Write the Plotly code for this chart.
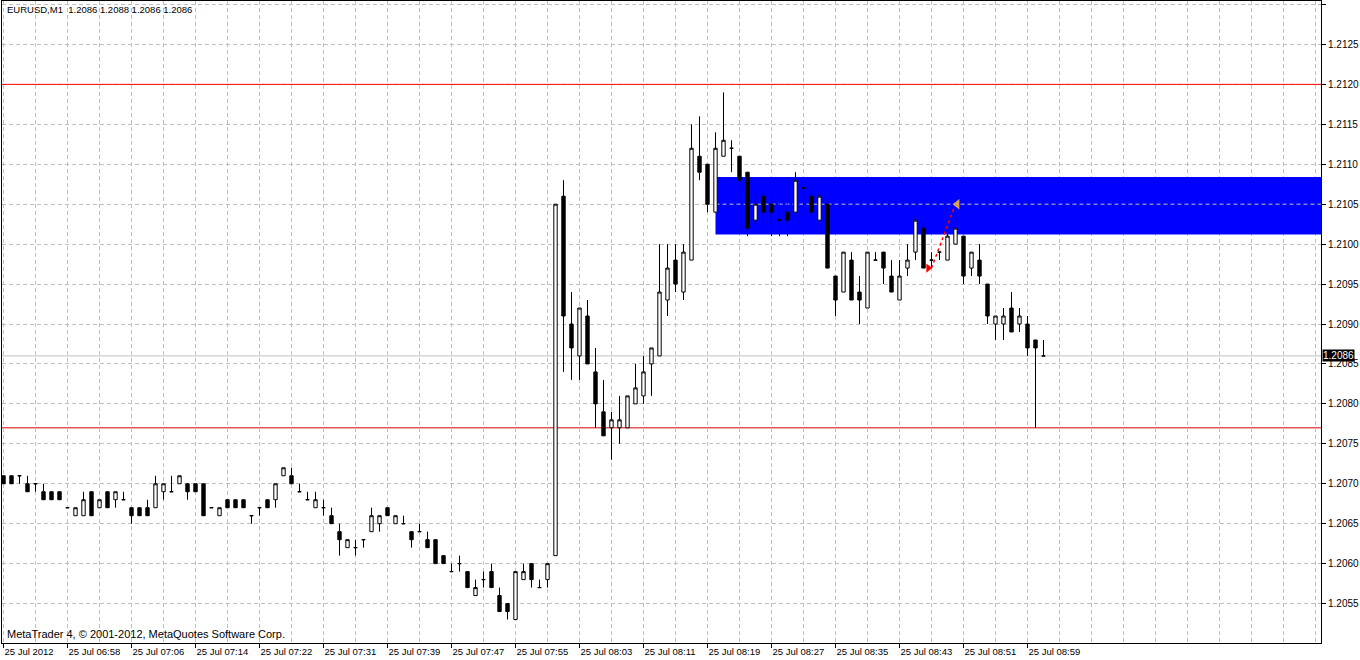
import plotly.graph_objects as go

# ---------------- data (EURUSD M1, 25 Jul 2012) ----------------
bar_index = list(range(131))

open_prices = [
    1.2071, 1.2071, 1.2071, 1.2070, 1.2070, 1.2069, 1.2069, 1.2069, 1.2067, 1.2066,
    1.2066, 1.2069, 1.2067, 1.2069, 1.2068, 1.2068, 1.2067, 1.2067, 1.2067, 1.2067,
    1.2069, 1.2069, 1.2070, 1.2070, 1.2070, 1.2070, 1.2067, 1.2066, 1.2068, 1.2068,
    1.2068, 1.2066, 1.2067, 1.2068, 1.2068, 1.2071, 1.2071, 1.2069, 1.2068, 1.2067,
    1.2067, 1.2066, 1.2064, 1.2062, 1.2062, 1.2063, 1.2064, 1.2065, 1.2067, 1.2065,
    1.2065, 1.2064, 1.2064, 1.2063, 1.2063, 1.2061, 1.2059, 1.2060, 1.2059, 1.2056,
    1.2058, 1.2059, 1.2056, 1.2055, 1.2053, 1.2058, 1.2060, 1.2057, 1.2058, 1.2061,
    1.2106, 1.2090, 1.2086, 1.2091, 1.2084, 1.2079, 1.2077, 1.2077, 1.2077, 1.2080,
    1.2081, 1.2085, 1.2086, 1.2093, 1.2098, 1.2094, 1.2098, 1.2111, 1.2110, 1.2104,
    1.2111, 1.2112, 1.2111, 1.2109, 1.2103, 1.2106, 1.2105, 1.2103, 1.2104, 1.2104,
    1.2107, 1.2106, 1.2103, 1.2105, 1.2096, 1.2094, 1.2098, 1.2094, 1.2092, 1.2098,
    1.2099, 1.2096, 1.2093, 1.2097, 1.2099, 1.2102, 1.2098, 1.2099, 1.2098, 1.2100,
    1.2101, 1.2097, 1.2098, 1.2095, 1.2090, 1.2090, 1.2092, 1.2090, 1.2090, 1.2088,
    1.2086,
]
high_prices = [
    1.2071, 1.2071, 1.2071, 1.2071, 1.2070, 1.2070, 1.2069, 1.2069, 1.2067, 1.2067,
    1.2069, 1.2069, 1.2068, 1.2069, 1.2069, 1.2069, 1.2067, 1.2067, 1.2068, 1.2071,
    1.2070, 1.2071, 1.2071, 1.2070, 1.2070, 1.2070, 1.2067, 1.2067, 1.2068, 1.2068,
    1.2068, 1.2066, 1.2067, 1.2068, 1.2070, 1.2072, 1.2072, 1.2070, 1.2069, 1.2069,
    1.2068, 1.2067, 1.2065, 1.2063, 1.2063, 1.2063, 1.2067, 1.2066, 1.2067, 1.2066,
    1.2066, 1.2064, 1.2065, 1.2064, 1.2063, 1.2061, 1.2060, 1.2061, 1.2059, 1.2058,
    1.2059, 1.2060, 1.2057, 1.2055, 1.2059, 1.2060, 1.2060, 1.2058, 1.2060, 1.2105,
    1.2108, 1.2094, 1.2092, 1.2093, 1.2087, 1.2083, 1.2079, 1.2081, 1.2081, 1.2085,
    1.2086, 1.2087, 1.2100, 1.2100, 1.2100, 1.2100, 1.2115, 1.2116, 1.2110, 1.2114,
    1.2119, 1.2113, 1.2111, 1.2109, 1.2107, 1.2107, 1.2107, 1.2105, 1.2105, 1.2109,
    1.2107, 1.2107, 1.2106, 1.2106, 1.2096, 1.2099, 1.2099, 1.2096, 1.2099, 1.2099,
    1.2099, 1.2098, 1.2098, 1.2100, 1.2103, 1.2103, 1.2099, 1.2099, 1.2102, 1.2105,
    1.2101, 1.2099, 1.2100, 1.2095, 1.2091, 1.2092, 1.2094, 1.2092, 1.2091, 1.2088,
    1.2088,
]
low_prices = [
    1.2070, 1.2070, 1.2070, 1.2069, 1.2069, 1.2068, 1.2068, 1.2068, 1.2067, 1.2066,
    1.2066, 1.2066, 1.2067, 1.2067, 1.2067, 1.2068, 1.2065, 1.2066, 1.2066, 1.2067,
    1.2068, 1.2069, 1.2070, 1.2068, 1.2069, 1.2066, 1.2067, 1.2066, 1.2067, 1.2067,
    1.2067, 1.2065, 1.2066, 1.2067, 1.2067, 1.2071, 1.2070, 1.2069, 1.2068, 1.2067,
    1.2066, 1.2065, 1.2061, 1.2062, 1.2061, 1.2062, 1.2064, 1.2064, 1.2066, 1.2065,
    1.2065, 1.2062, 1.2064, 1.2062, 1.2060, 1.2060, 1.2059, 1.2059, 1.2057, 1.2056,
    1.2057, 1.2057, 1.2054, 1.2053, 1.2053, 1.2058, 1.2057, 1.2057, 1.2057, 1.2061,
    1.2084, 1.2083, 1.2083, 1.2085, 1.2077, 1.2076, 1.2073, 1.2075, 1.2077, 1.2080,
    1.2080, 1.2081, 1.2086, 1.2091, 1.2094, 1.2093, 1.2098, 1.2108, 1.2104, 1.2104,
    1.2111, 1.2109, 1.2106, 1.2101, 1.2102, 1.2102, 1.2101, 1.2101, 1.2101, 1.2103,
    1.2104, 1.2104, 1.2103, 1.2097, 1.2091, 1.2094, 1.2093, 1.2090, 1.2092, 1.2098,
    1.2095, 1.2094, 1.2093, 1.2096, 1.2098, 1.2097, 1.2097, 1.2098, 1.2098, 1.2100,
    1.2095, 1.2096, 1.2095, 1.2090, 1.2088, 1.2088, 1.2089, 1.2089, 1.2086, 1.2077,
    1.2086,
]
close_prices = [
    1.2070, 1.2070, 1.2071, 1.2069, 1.2070, 1.2068, 1.2068, 1.2068, 1.2067, 1.2067,
    1.2068, 1.2066, 1.2068, 1.2067, 1.2069, 1.2068, 1.2066, 1.2066, 1.2066, 1.2070,
    1.2070, 1.2069, 1.2071, 1.2069, 1.2069, 1.2066, 1.2067, 1.2067, 1.2067, 1.2067,
    1.2067, 1.2066, 1.2067, 1.2067, 1.2070, 1.2072, 1.2070, 1.2069, 1.2068, 1.2068,
    1.2067, 1.2065, 1.2063, 1.2063, 1.2062, 1.2063, 1.2066, 1.2066, 1.2066, 1.2066,
    1.2065, 1.2063, 1.2064, 1.2062, 1.2060, 1.2060, 1.2059, 1.2060, 1.2057, 1.2057,
    1.2058, 1.2057, 1.2054, 1.2054, 1.2059, 1.2059, 1.2058, 1.2057, 1.2060, 1.2105,
    1.2091, 1.2087, 1.2092, 1.2085, 1.2080, 1.2076, 1.2078, 1.2078, 1.2081, 1.2082,
    1.2084, 1.2087, 1.2094, 1.2097, 1.2095, 1.2099, 1.2112, 1.2109, 1.2105, 1.2112,
    1.2113, 1.2112, 1.2108, 1.2102, 1.2105, 1.2104, 1.2104, 1.2103, 1.2103, 1.2108,
    1.2107, 1.2104, 1.2106, 1.2097, 1.2093, 1.2099, 1.2093, 1.2093, 1.2099, 1.2098,
    1.2097, 1.2094, 1.2096, 1.2098, 1.2103, 1.2097, 1.2098, 1.2099, 1.2101, 1.2102,
    1.2096, 1.2099, 1.2096, 1.2091, 1.2091, 1.2091, 1.2089, 1.2091, 1.2087, 1.2087,
    1.2086,
]

tick_bars = [0, 8, 16, 24, 32, 40, 48, 56, 64, 72, 80, 88, 96, 104, 112, 120, 128]
tick_labels = [
    "25 Jul 2012", "25 Jul 06:58", "25 Jul 07:06", "25 Jul 07:14", "25 Jul 07:22",
    "25 Jul 07:31", "25 Jul 07:39", "25 Jul 07:47", "25 Jul 07:55", "25 Jul 08:03",
    "25 Jul 08:11", "25 Jul 08:19", "25 Jul 08:27", "25 Jul 08:35", "25 Jul 08:43",
    "25 Jul 08:51", "25 Jul 08:59",
]

symbol_name = "EURUSD,M1"
last_ohlc = ["1.2086", "1.2088", "1.2086", "1.2086"]
bid_price = 1.2086
resistance_level = 1.2120
support_level = 1.2077
zone_start_bar = 89
zone_top = 1.21084
zone_bottom = 1.21012
zone_mid_grid = 1.2105
trade_bars = [116, 119]
trade_prices = [1.2097, 1.2105]
copyright_text = "MetaTrader 4, \u00a9 2001-2012, MetaQuotes Software Corp."

# ---------------- view (8 px per bar, 80000 px per price unit) ----------------
x_range = [-0.1875, 164.6875]
y_range = [1.20500625, 1.21304375]
FONT = "Liberation Sans, Arial, sans-serif"
GRID = "#c0c0c0"

fig = go.Figure()

fig.add_trace(go.Candlestick(
    x=bar_index, open=open_prices, high=high_prices, low=low_prices, close=close_prices,
    increasing=dict(line=dict(color="black", width=1), fillcolor="white"),
    decreasing=dict(line=dict(color="black", width=1), fillcolor="black"),
    whiskerwidth=0, showlegend=False, hoverinfo="skip",
))

# trade: open arrow, dotted connection, close arrow
fig.add_trace(go.Scatter(
    x=trade_bars, y=trade_prices, mode="lines",
    line=dict(color="red", width=1.5, dash="dot"), showlegend=False, hoverinfo="skip",
))
fig.add_trace(go.Scatter(
    x=[trade_bars[0] - 0.4], y=[trade_prices[0]], mode="markers",
    marker=dict(symbol="triangle-right", size=8, color="red", line=dict(width=0)),
    showlegend=False, hoverinfo="skip",
))
fig.add_trace(go.Scatter(
    x=[trade_bars[1] + 0.2], y=[trade_prices[1]], mode="markers",
    marker=dict(symbol="triangle-left", size=9, color="#d4a358", line=dict(width=0)),
    showlegend=False, hoverinfo="skip",
))

shapes = [
    dict(type="rect", xref="x", yref="y", x0=zone_start_bar, x1=x_range[1],
         y0=zone_bottom, y1=zone_top, fillcolor="#0000ff", line=dict(width=0),
         layer="between"),
    dict(type="line", xref="x", yref="y", x0=zone_start_bar, x1=x_range[1],
         y0=zone_mid_grid, y1=zone_mid_grid, line=dict(color=GRID, width=1, dash="4px,3px"),
         layer="between"),
    dict(type="line", xref="paper", yref="y", x0=0, x1=1,
         y0=resistance_level, y1=resistance_level, line=dict(color="#ff0000", width=1),
         layer="above"),
    dict(type="line", xref="paper", yref="y", x0=0, x1=1,
         y0=support_level, y1=support_level, line=dict(color="#d80000", width=1),
         layer="between"),
    dict(type="line", xref="paper", yref="y", x0=0, x1=1,
         y0=bid_price, y1=bid_price, line=dict(color="#c0c0c0", width=1),
         layer="between"),
]

annotations = [
    dict(xref="paper", yref="paper", x=0, y=1, xanchor="left", yanchor="top",
         xshift=3, yshift=-1, showarrow=False,
         text=symbol_name + "&nbsp;&nbsp;" + " ".join(last_ohlc),
         font=dict(family=FONT, size=9.5, color="black")),
    dict(xref="paper", yref="paper", x=0, y=0, xanchor="left", yanchor="bottom",
         xshift=3, yshift=1, showarrow=False, text=copyright_text,
         font=dict(family=FONT, size=11, color="black")),
    dict(xref="paper", yref="y", x=1, y=bid_price, xanchor="left", yanchor="middle",
         xshift=1, showarrow=False, text=f"{bid_price:.4f}", bgcolor="black",
         borderpad=0, font=dict(family=FONT, size=10, color="white")),
]

fig.update_layout(
    width=1360, height=660,
    margin=dict(l=2, r=39, t=1, b=17, pad=0),
    paper_bgcolor="white", plot_bgcolor="white",
    showlegend=False, boxgap=0.4,
    shapes=shapes, annotations=annotations,
    font=dict(family=FONT, size=10, color="black"),
    hovermode=False,
)

fig.update_xaxes(
    range=x_range, rangeslider=dict(visible=False),
    tickmode="array", tickvals=tick_bars, ticktext=tick_labels,
    ticks="outside", ticklen=4, tickcolor="black", tickwidth=1,
    ticklabelposition="outside right",
    tickfont=dict(family=FONT, size=9.5, color="black"),
    showgrid=True, gridcolor=GRID, griddash="4px,3px", gridwidth=1,
    minor=dict(tickmode="linear", tick0=0, dtick=4, showgrid=True,
               gridcolor=GRID, griddash="4px,3px", gridwidth=1, ticklen=0),
    showline=True, linecolor="black", linewidth=1, mirror=True,
    zeroline=False, fixedrange=True,
)

fig.update_yaxes(
    range=y_range, side="right",
    tickmode="linear", tick0=1.2050, dtick=0.0005, tickformat=".4f",
    ticks="outside", ticklen=4, tickcolor="black", tickwidth=1,
    tickfont=dict(family=FONT, size=10, color="black"),
    showgrid=True, gridcolor=GRID, griddash="4px,3px", gridwidth=1,
    showline=True, linecolor="black", linewidth=1, mirror=True,
    zeroline=False, fixedrange=True,
)

fig.write_html(
    "out.html",
    config={"displayModeBar": False},
    post_script="document.body.style.margin='0px';document.body.style.padding='0px';",
)
